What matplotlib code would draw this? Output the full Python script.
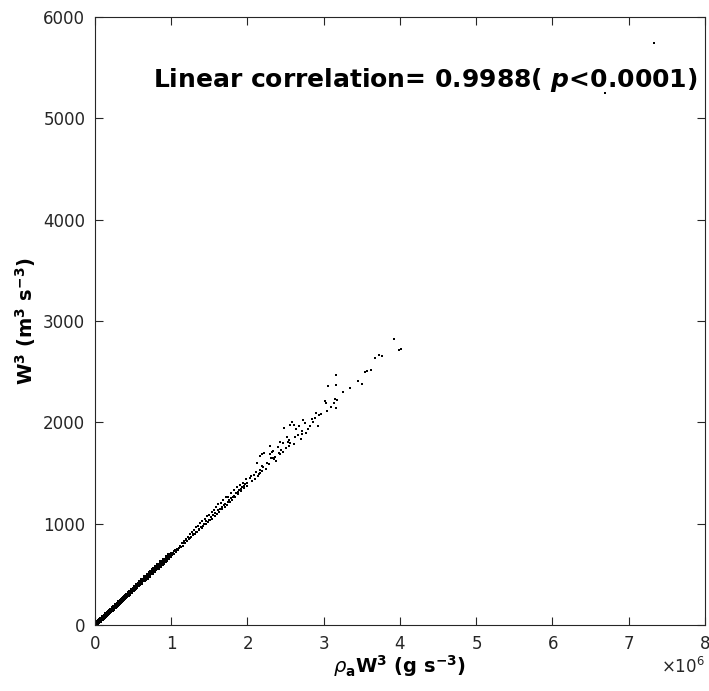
import matplotlib
matplotlib.use('Agg')
import matplotlib.pyplot as plt
import numpy as np

# rho_a * W^3 in units of 1e6 g s^-3, W^3 in m^3 s^-3
x_low = [0.02, 0.04, 0.05, 0.07, 0.09, 0.10, 0.12, 0.14, 0.15, 0.17, 0.19, 0.21, 0.22, 0.24,
         0.26, 0.27, 0.29, 0.31, 0.33, 0.34, 0.36, 0.38, 0.40, 0.41, 0.43, 0.45, 0.47, 0.48,
         0.50, 0.52, 0.54, 0.55, 0.57, 0.59, 0.61, 0.62, 0.64, 0.66, 0.68, 0.69, 0.71, 0.73,
         0.75, 0.76, 0.78, 0.80, 0.82, 0.83, 0.85, 0.87, 0.89, 0.90, 0.92, 0.94, 0.96, 0.97, 0.99]
y_low = [14, 28, 36, 49, 62, 71, 83, 99, 104, 120, 132, 148, 153, 169,
         180, 192, 201, 219, 228, 241, 250, 268, 277, 291, 298, 318, 325, 341,
         346, 368, 374, 392, 393, 420, 421, 440, 441, 469, 467, 492, 488, 519,
         515, 543, 535, 569, 562, 592, 583, 618, 611, 642, 632, 668, 660, 690, 681]

x_low2 = [0.03, 0.06, 0.08, 0.11, 0.13, 0.16, 0.18, 0.20, 0.23, 0.25, 0.28, 0.30, 0.32, 0.35,
          0.37, 0.39, 0.42, 0.44, 0.46, 0.49, 0.51, 0.53, 0.56, 0.58, 0.60, 0.63, 0.65, 0.67,
          0.70, 0.72, 0.74, 0.77, 0.79, 0.81, 0.84, 0.86, 0.88, 0.91, 0.93, 0.95, 0.98]
y_low2 = [21, 42, 57, 76, 93, 111, 127, 140, 162, 174, 196, 208, 226, 246,
          258, 276, 292, 310, 322, 345, 354, 378, 390, 409, 416, 447, 452, 476,
          487, 512, 510, 549, 548, 575, 580, 610, 606, 646, 642, 672, 688]

x_mid = [1.00, 1.01, 1.03, 1.04, 1.05, 1.06, 1.08, 1.09, 1.10, 1.12, 1.13, 1.14, 1.15, 1.17,
         1.18, 1.19, 1.21, 1.22, 1.23, 1.25, 1.26, 1.27, 1.29, 1.30, 1.31, 1.33, 1.34, 1.35,
         1.37, 1.38, 1.40, 1.41, 1.42, 1.44, 1.45, 1.47, 1.48, 1.50, 1.51, 1.53, 1.54, 1.56,
         1.57, 1.59, 1.60, 1.62, 1.63, 1.65, 1.67, 1.68, 1.70, 1.72, 1.73, 1.75, 1.77, 1.78,
         1.80, 1.82, 1.84, 1.86, 1.88, 1.90, 1.92, 1.94, 1.96, 1.98, 2.00]
y_mid = [715, 688, 731, 702, 742, 716, 746, 738, 758, 775, 770, 808, 782, 826,
         805, 850, 832, 870, 845, 895, 864, 918, 885, 940, 897, 965, 918, 975,
         942, 1002, 958, 1030, 980, 1045, 996, 1072, 1012, 1088, 1040, 1115, 1050, 1135,
         1078, 1160, 1094, 1190, 1118, 1205, 1142, 1232, 1165, 1260, 1186, 1268, 1215, 1300,
         1232, 1330, 1262, 1362, 1290, 1380, 1318, 1405, 1348, 1440, 1372]

x_mid2 = [1.02, 1.07, 1.11, 1.16, 1.20, 1.24, 1.28, 1.32, 1.36, 1.39, 1.43, 1.46, 1.49, 1.52,
          1.55, 1.58, 1.61, 1.64, 1.66, 1.69, 1.71, 1.74, 1.76, 1.79, 1.81, 1.83, 1.85, 1.87,
          1.89, 1.91, 1.93, 1.95, 1.97, 1.99]
y_mid2 = [712, 742, 772, 805, 838, 862, 894, 922, 950, 972, 1000, 1022, 1040, 1062,
          1085, 1106, 1130, 1148, 1160, 1180, 1196, 1215, 1232, 1250, 1268, 1276, 1300, 1309,
          1332, 1340, 1362, 1373, 1395, 1405]

x_high = [2.03, 2.06, 2.08, 2.10, 2.11, 2.14, 2.16, 2.20, 2.24, 2.26, 2.30, 2.36, 2.40, 2.42,
          2.50, 2.52, 2.56, 2.66, 2.68, 2.75, 2.82, 2.90, 2.97, 3.09,
          2.05, 2.15, 2.17, 2.19, 2.13, 2.19, 2.28, 2.22, 2.19, 2.17, 2.33, 2.35, 2.31, 2.37,
          2.29, 2.32, 2.34, 2.44, 2.47, 2.43, 2.62, 2.54, 2.53, 2.47, 2.43, 2.61, 2.54,
          2.58, 2.56, 2.61, 2.64, 2.48, 2.94, 2.93, 2.88, 2.85, 2.86, 2.80, 2.77, 2.73,
          2.71, 2.72, 2.70, 3.02, 3.03, 3.13, 3.15, 3.17, 3.16, 3.05, 3.16, 3.16, 3.06,
          3.34, 3.26, 3.45, 3.50, 3.54, 3.57, 3.62, 3.68, 3.72, 3.77, 3.92, 3.99, 4.01]
y_high = [1455, 1420, 1480, 1445, 1508, 1470, 1530, 1560, 1540, 1600, 1690, 1660, 1760, 1700,
          1745, 1860, 1800, 1870, 1960, 1990, 1960, 2090, 2080, 2150,
          1473, 1487, 1503, 1523, 1599, 1569, 1592, 1700, 1684, 1665, 1651, 1635, 1648, 1621,
          1767, 1710, 1717, 1730, 1707, 1688, 1852, 1826, 1806, 1796, 1809, 1786, 1767,
          2003, 1977, 1977, 1931, 1944, 2069, 1960, 2043, 2030, 2000, 1931, 1892, 2020,
          1911, 1881, 1835, 2210, 2194, 2194, 2230, 2220, 2138, 2109, 2467, 2372, 2359,
          2342, 2297, 2405, 2382, 2500, 2507, 2520, 2638, 2661, 2654, 2823, 2710, 2723]

x_out = [6.69, 7.33]
y_out = [5250, 5744]

xs = np.concatenate([x_low, x_low2, x_mid, x_mid2, x_high, x_out]) * 1e6
ys = np.concatenate([y_low, y_low2, y_mid, y_mid2, y_high, y_out])

fig = plt.figure(figsize=(7.09, 6.91), dpi=100)
ax = fig.add_axes([0.134, 0.0955, 0.86, 0.88])

# dense band near the origin drawn a bit heavier, as in the original
ax.plot(np.concatenate([x_low, x_low2]) * 1e6, np.concatenate([y_low, y_low2]),
        's', color='k', ms=2.6, mew=0)
ax.plot(xs, ys, 's', color='k', ms=2.0, mew=0)

ax.set_xlim(0, 8e6)
ax.set_ylim(0, 6000)
ax.set_xticks(np.arange(0, 8.1e6, 1e6))
ax.set_yticks(np.arange(0, 6001, 1000))
ax.ticklabel_format(style='sci', axis='x', scilimits=(0, 0), useMathText=True)

axcol = '#262626'
for s in ax.spines.values():
    s.set_color(axcol)
    s.set_linewidth(0.8)
ax.tick_params(direction='in', length=6, width=0.8, top=True, right=True,
               colors=axcol, labelsize=12, pad=7)
ax.xaxis.get_offset_text().set_fontsize(12)
ax.xaxis.get_offset_text().set_color(axcol)

ax.set_xlabel(r'$\rho_\mathbf{a}$W$^\mathbf{3}$ (g s$^\mathbf{-3}$)',
              fontweight='bold', fontsize=14, labelpad=0)
ax.set_ylabel(r'W$^\mathbf{3}$ (m$^\mathbf{3}$ s$^\mathbf{-3}$)',
              fontweight='bold', fontsize=14, labelpad=4)

ax.text(7.9e6, 5380, r'Linear correlation= 0.9988( $\boldsymbol{p}$<0.0001)',
        ha='right', va='center', fontweight='bold', fontsize=18)

fig.savefig('out.png', dpi=100)
